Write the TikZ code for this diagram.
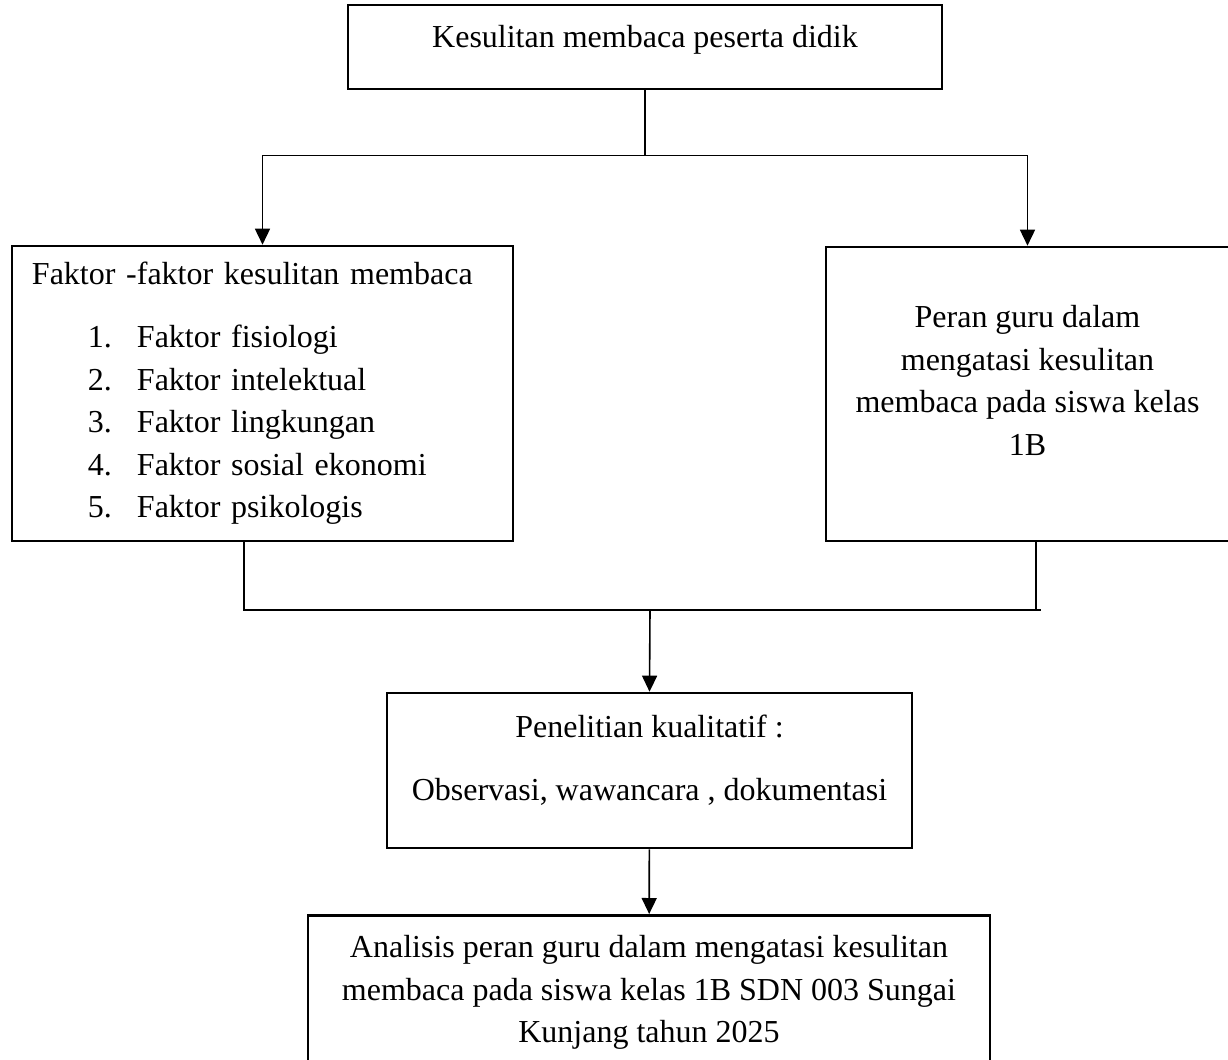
\documentclass[tikz,border=0pt]{standalone}
\usepackage{fontspec}
\setmainfont{Liberation Serif}
\usetikzlibrary{arrows.meta}
\usetikzlibrary{positioning}

\begin{document}
\begin{tikzpicture}[x=0.5pt, y=-0.5pt,
  flowbox/.style={draw, rectangle, line width=1.3pt, inner sep=10pt, font=\fontsize{16}{21.25}\selectfont},
  flowline/.style={line width=0.8pt},
  flowarrow/.style={flowline, -{Triangle[length=8pt,width=7.5pt]}}]
\useasboundingbox (0,0) rectangle (1228,1060);

\node[flowbox, minimum width=297pt, minimum height=40pt, text depth=11pt] (Kesulitan) at (645,47) {Kesulitan membaca peserta didik};

\node[flowbox, inner ysep=5pt, minimum width=250.5pt, minimum height=147.5pt, text width=230.5pt, align=left] (Faktor) at (262.5,393.5)
  {Faktor -faktor kesulitan membaca\\[10.25pt]
   \hspace*{28pt}\makebox[24.5pt][l]{1.}Faktor fisiologi\\
   \hspace*{28pt}\makebox[24.5pt][l]{2.}Faktor intelektual\\
   \hspace*{28pt}\makebox[24.5pt][l]{3.}Faktor lingkungan\\
   \hspace*{28pt}\makebox[24.5pt][l]{4.}Faktor sosial ekonomi\\
   \hspace*{28pt}\makebox[24.5pt][l]{5.}Faktor psikologis};

\node[flowbox, minimum width=201.5pt, minimum height=147pt, align=center, text depth=13.7pt] (Peran) at (1027.5,394)
  {Peran guru dalam\\mengatasi kesulitan\\membaca pada siswa kelas\\1B};

\node[flowbox, minimum width=262.5pt, minimum height=77.5pt, align=center, text depth=13pt] (Penelitian) at (649.5,770.5)
  {Penelitian kualitatif :\\[10.25pt]Observasi, wawancara , dokumentasi};

\node[flowbox, anchor=north, minimum width=341pt, align=center] (Analisis) at (649,914)
  {Analisis peran guru dalam mengatasi kesulitan\\membaca pada siswa kelas 1B SDN 003 Sungai\\Kunjang tahun 2025};

% percabangan atas
\draw[flowline] (Kesulitan.south) -- ++(0,65) coordinate (Split);
\draw[flowarrow] (Split) -| (Faktor.north);
\draw[flowarrow] (Split) -| (Peran.north);

% pertemuan bawah
\coordinate (Join) at (650,610);
\draw[flowline] ([xshift=-9.25pt]Faktor.south) |- (Join) -| ([xshift=4.25pt]Peran.south);
\draw[flowline] (Join) -- ++(391,0);
\draw[flowarrow] (Join) -- (Penelitian.north);
\draw[flowarrow] (Penelitian) -- (Analisis);
\end{tikzpicture}
\end{document}
